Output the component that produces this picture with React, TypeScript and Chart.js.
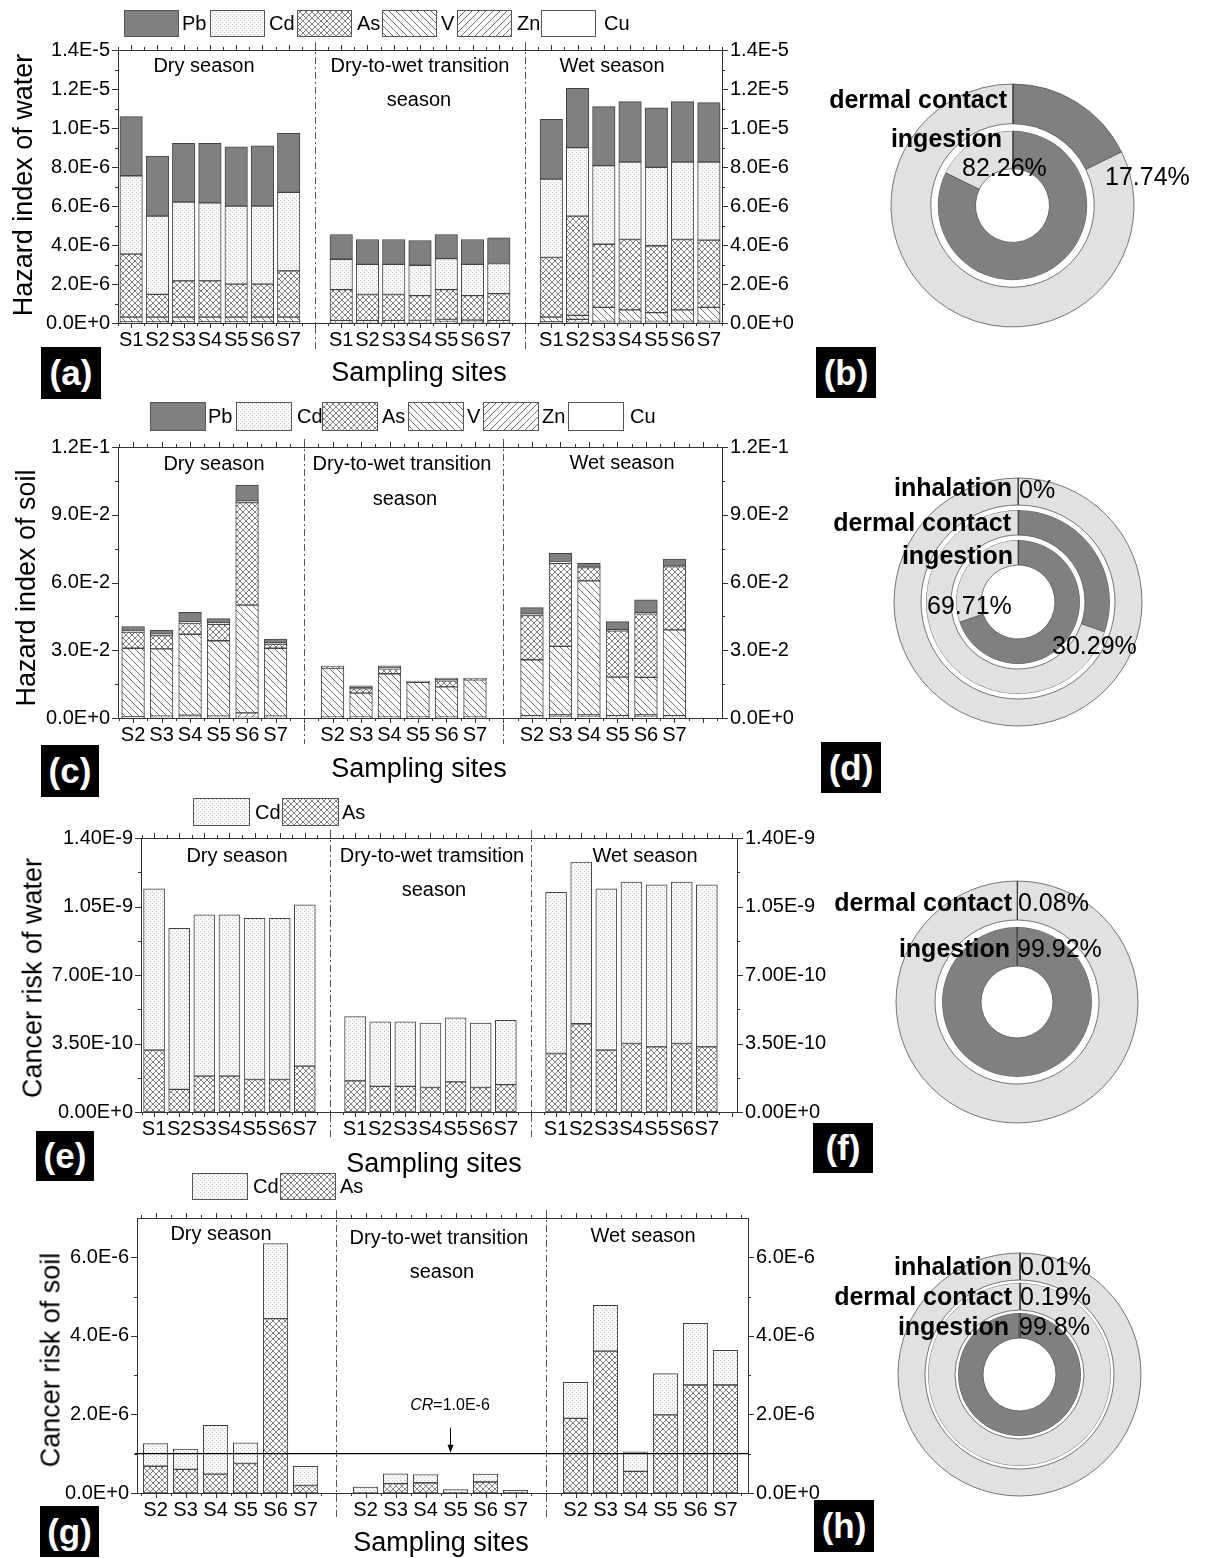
import React, { useEffect, useRef } from 'react';
import { Chart, registerables } from 'chart.js';

Chart.register(...registerables);

const FONT = "'Liberation Sans', Arial, Helvetica, sans-serif";
const CANVAS_W = 860;

// ---------- sites, pollutants, seasons ----------
const WATER_SITES = ['S1', 'S2', 'S3', 'S4', 'S5', 'S6', 'S7'];
const SOIL_SITES = ['S2', 'S3', 'S4', 'S5', 'S6', 'S7'];
const METALS = ['Pb', 'Cd', 'As', 'V', 'Zn', 'Cu'];
const CARCINOGENS = ['Cd', 'As'];
const SEASON_LINE1 = ['Dry season', 'Dry-to-wet transition', 'Wet season'];

// ---------- hazard index of water (×1E-6); dry | transition | wet, S1–S7 ----------
const hiWaterCu = [0.02, 0.02, 0.02, 0.02, 0.02, 0.02, 0.02, 0.02, 0.02, 0.02, 0.02, 0.02, 0.02, 0.02, 0.03, 0.03, 0.03, 0.03, 0.03, 0.03, 0.03];
const hiWaterZn = [0.03, 0.03, 0.03, 0.03, 0.03, 0.03, 0.03, 0.02, 0.02, 0.02, 0.02, 0.02, 0.02, 0.02, 0.04, 0.16, 0.05, 0.05, 0.05, 0.05, 0.05];
const hiWaterV = [0.25, 0.25, 0.25, 0.25, 0.25, 0.25, 0.25, 0.08, 0.08, 0.08, 0.09, 0.14, 0.11, 0.08, 0.23, 0.2, 0.72, 0.59, 0.45, 0.59, 0.72];
const hiWaterAs = [3.23, 1.17, 1.86, 1.86, 1.69, 1.69, 2.37, 1.59, 1.34, 1.34, 1.27, 1.53, 1.25, 1.39, 3.06, 5.09, 3.24, 3.61, 3.43, 3.61, 3.45];
const hiWaterCd = [4.02, 4.01, 4.04, 4.0, 4.0, 4.0, 4.03, 1.56, 1.55, 1.55, 1.56, 1.59, 1.61, 1.54, 4.02, 3.51, 4.03, 3.97, 4.02, 3.97, 4.0];
const hiWaterPb = [3.03, 3.08, 3.01, 3.05, 3.05, 3.09, 3.03, 1.27, 1.27, 1.27, 1.27, 1.24, 1.27, 1.32, 3.07, 3.05, 3.03, 3.1, 3.06, 3.1, 3.05];

// ---------- hazard index of soil (×1E-2); dry | transition | wet, S2–S7 ----------
const hiSoilCu = [0.03, 0.03, 0.04, 0.03, 0.03, 0.03, 0.02, 0.02, 0.02, 0.02, 0.02, 0.02, 0.04, 0.04, 0.04, 0.04, 0.04, 0.04];
const hiSoilZn = [0.03, 0.05, 0.08, 0.05, 0.2, 0.05, 0.02, 0.02, 0.02, 0.02, 0.02, 0.02, 0.06, 0.1, 0.1, 0.06, 0.1, 0.06];
const hiSoilV = [3.03, 2.98, 3.59, 3.34, 4.77, 3.01, 2.17, 1.06, 1.92, 1.54, 1.34, 1.65, 2.48, 3.03, 5.93, 1.71, 1.66, 3.8];
const hiSoilAs = [0.71, 0.59, 0.49, 0.73, 4.54, 0.18, 0.04, 0.2, 0.22, 0.02, 0.27, 0.02, 1.96, 3.68, 0.59, 2.05, 2.81, 2.8];
const hiSoilCd = [0.05, 0.06, 0.05, 0.06, 0.06, 0.06, 0.02, 0.04, 0.04, 0.01, 0.04, 0.02, 0.06, 0.08, 0.04, 0.05, 0.05, 0.05];
const hiSoilPb = [0.2, 0.18, 0.43, 0.19, 0.71, 0.16, 0.03, 0.09, 0.09, 0.03, 0.08, 0.04, 0.29, 0.36, 0.15, 0.36, 0.57, 0.29];

// ---------- cancer risk of water (×1E-10); dry | transition | wet, S1–S7 ----------
const crWaterAs = [3.16, 1.16, 1.83, 1.83, 1.66, 1.66, 2.34, 1.59, 1.31, 1.31, 1.25, 1.54, 1.25, 1.4, 2.99, 4.51, 3.16, 3.5, 3.33, 3.5, 3.33];
const crWaterCd = [8.24, 8.23, 8.24, 8.24, 8.24, 8.24, 8.24, 3.29, 3.3, 3.3, 3.29, 3.27, 3.29, 3.28, 8.24, 8.26, 8.24, 8.25, 8.28, 8.25, 8.28];

// ---------- cancer risk of soil (×1E-6); dry | transition | wet, S2–S7 ----------
const crSoilAs = [0.68, 0.6, 0.48, 0.75, 4.44, 0.19, 0.01, 0.24, 0.26, 0.01, 0.28, 0.01, 1.9, 3.61, 0.55, 1.99, 2.75, 2.75];
const crSoilCd = [0.58, 0.52, 1.24, 0.53, 1.91, 0.49, 0.14, 0.25, 0.21, 0.075, 0.2, 0.06, 0.92, 1.17, 0.5, 1.05, 1.57, 0.88];
const CR_THRESHOLD = 1.0e-6;

// ---------- exposure pathway shares (%), outer ring first ----------
const pathwaysWaterHI = ['dermal contact', 'ingestion'];
const sharesWaterHI = [17.74, 82.26];
const pathwaysSoilHI = ['inhalation', 'dermal contact', 'ingestion'];
const sharesSoilHI = [0, 30.29, 69.71];
const pathwaysWaterCR = ['dermal contact', 'ingestion'];
const sharesWaterCR = [0.08, 99.92];
const pathwaysSoilCR = ['inhalation', 'dermal contact', 'ingestion'];
const sharesSoilCR = [0.01, 0.19, 99.8];

// ---------- panel layout ----------
type BarPanel = {
  top: number;
  height: number;
  frame: { l: number; t: number; r: number; b: number };
  xMin: number;
  xMax: number;
  sites: string[];
  unit: number;
  stack: [string, number[]][];
  yMax: number;
  yStep: number;
  digits: number;
  barThickness: number;
  legendNames: string[];
  legendBoxX: number[];
  legendTextX: number[];
  legendTop: number;
  legendH: number;
  legendW: number;
  seasonPos: [number, number][];
  season2Pos: [number, number];
  season2Text: string;
  transitionText: string;
  yTitle: string;
  yTitlePos: [number, number];
  xTitlePos: [number, number];
  tag: string;
  tagBox: [number, number, number, number];
  cr?: { value: number; arrowAt: number; labelPos: [number, number] };
};

const BAR_PANELS: BarPanel[] = [
  {
    top: 0, height: 360, frame: { l: 118, t: 50, r: 722, b: 323 }, xMin: -0.5, xMax: 22.5,
    sites: WATER_SITES, unit: 1e-6,
    stack: [['Cu', hiWaterCu], ['Zn', hiWaterZn], ['V', hiWaterV], ['As', hiWaterAs], ['Cd', hiWaterCd], ['Pb', hiWaterPb]],
    yMax: 1.4e-5, yStep: 2e-6, digits: 1, barThickness: 22.5,
    legendNames: METALS, legendBoxX: [124, 210, 297, 382, 457, 541], legendTextX: [182, 269, 357, 441, 517, 604],
    legendTop: 10, legendH: 26, legendW: 54,
    seasonPos: [[204, 65], [420, 65], [612, 65]], season2Pos: [419, 99], season2Text: 'season',
    transitionText: 'Dry-to-wet transition',
    yTitle: 'Hazard index of water', yTitlePos: [23, 185], xTitlePos: [419, 372],
    tag: '(a)', tagBox: [41, 347, 60, 52],
  },
  {
    top: 395, height: 365, frame: { l: 118, t: 447, r: 722, b: 718 }, xMin: -0.53, xMax: 20.67,
    sites: SOIL_SITES, unit: 1e-2,
    stack: [['Cu', hiSoilCu], ['Zn', hiSoilZn], ['V', hiSoilV], ['As', hiSoilAs], ['Cd', hiSoilCd], ['Pb', hiSoilPb]],
    yMax: 0.12, yStep: 0.03, digits: 1, barThickness: 22.7,
    legendNames: METALS, legendBoxX: [150, 236, 322, 408, 483, 568], legendTextX: [208, 297, 382, 467, 542, 630],
    legendTop: 402, legendH: 28, legendW: 55,
    seasonPos: [[214, 463], [402, 463], [622, 462]], season2Pos: [405, 498], season2Text: 'season',
    transitionText: 'Dry-to-wet transition',
    yTitle: 'Hazard index of soil', yTitlePos: [26, 588], xTitlePos: [419, 768],
    tag: '(c)', tagBox: [41, 745, 58, 52],
  },
  {
    top: 795, height: 345, frame: { l: 141, t: 838, r: 737, b: 1112 }, xMin: -0.52, xMax: 23.2,
    sites: WATER_SITES, unit: 1e-10,
    stack: [['As', crWaterAs], ['Cd', crWaterCd]],
    yMax: 1.4e-9, yStep: 3.5e-10, digits: 2, barThickness: 21,
    legendNames: CARCINOGENS, legendBoxX: [193, 282], legendTextX: [255, 342],
    legendTop: 798, legendH: 27, legendW: 56,
    seasonPos: [[237, 855], [432, 855], [645, 855]], season2Pos: [434, 889], season2Text: 'season',
    transitionText: 'Dry-to-wet tramsition',
    yTitle: 'Cancer risk of water', yTitlePos: [33, 978], xTitlePos: [434, 1163],
    tag: '(e)', tagBox: [36, 1131, 58, 50],
  },
  {
    top: 1168, height: 360, frame: { l: 137, t: 1218, r: 748, b: 1493 }, xMin: -0.62, xMax: 19.75,
    sites: SOIL_SITES, unit: 1e-6,
    stack: [['As', crSoilAs], ['Cd', crSoilCd]],
    yMax: 7e-6, yStep: 2e-6, digits: 1, barThickness: 24.5,
    legendNames: CARCINOGENS, legendBoxX: [192, 280], legendTextX: [253, 340],
    legendTop: 1173, legendH: 26, legendW: 55,
    seasonPos: [[221, 1233], [439, 1237], [643, 1235]], season2Pos: [442, 1271], season2Text: 'season',
    transitionText: 'Dry-to-wet transition',
    yTitle: 'Cancer risk of soil', yTitlePos: [51, 1360], xTitlePos: [441, 1542],
    tag: '(g)', tagBox: [40, 1506, 59, 51],
    cr: { value: CR_THRESHOLD, arrowAt: 9.8, labelPos: [450, 1405] },
  },
];

type DonutPanel = {
  cx: number; cy: number; R: number; hole: number;
  ringW: number[]; gap: number;
  pathways: string[]; shares: number[];
  nameAt: [number, number][]; pctAt: [number, number][];
  tag: string; tagBox: [number, number, number, number];
};

const DONUTS: DonutPanel[] = [
  {
    cx: 1012, cy: 205, R: 121.5, hole: 37, ringW: [40, 38], gap: 7,
    pathways: pathwaysWaterHI, shares: sharesWaterHI,
    nameAt: [[1007, 99], [1002, 138]], pctAt: [[1105, 176], [962, 167]],
    tag: '(b)', tagBox: [816, 347, 60, 51],
  },
  {
    cx: 1018, cy: 602, R: 124, hole: 37, ringW: [27, 25, 25], gap: 5,
    pathways: pathwaysSoilHI, shares: sharesSoilHI,
    nameAt: [[1012, 487], [1011, 522], [1013, 555]], pctAt: [[1019, 489], [1052, 645], [927, 605]],
    tag: '(d)', tagBox: [821, 742, 60, 51],
  },
  {
    cx: 1017, cy: 1002, R: 121, hole: 36, ringW: [39, 39], gap: 7,
    pathways: pathwaysWaterCR, shares: sharesWaterCR,
    nameAt: [[1012, 902], [1010, 948]], pctAt: [[1018, 902], [1017, 948]],
    tag: '(f)', tagBox: [813, 1123, 60, 50],
  },
  {
    cx: 1019, cy: 1374, R: 121.5, hole: 36.5, ringW: [27, 27, 25], gap: 3,
    pathways: pathwaysSoilCR, shares: sharesSoilCR,
    nameAt: [[1012, 1266], [1012, 1296], [1009, 1326]], pctAt: [[1020, 1266], [1020, 1296], [1019, 1326]],
    tag: '(h)', tagBox: [814, 1500, 60, 52],
  },
];

const DARK = '#808080';
const LIGHT = '#e1e1e1';
const EDGE = '#444444';

// ---------- fill patterns for the pollutant stacks ----------
function makeFills(ctx: CanvasRenderingContext2D): Record<string, string | CanvasPattern> {
  const tile = (size: number, bg: string, paint: (g: CanvasRenderingContext2D, s: number) => void) => {
    const c = document.createElement('canvas');
    c.width = size;
    c.height = size;
    const g = c.getContext('2d')!;
    g.fillStyle = bg;
    g.fillRect(0, 0, size, size);
    g.strokeStyle = '#5c5c5c';
    g.lineWidth = 0.9;
    paint(g, size);
    return ctx.createPattern(c, 'repeat') as CanvasPattern;
  };
  const back = (g: CanvasRenderingContext2D, s: number) => {
    g.beginPath();
    for (const k of [-s, 0, s]) { g.moveTo(k, 0); g.lineTo(k + s, s); }
    g.stroke();
  };
  const fwd = (g: CanvasRenderingContext2D, s: number) => {
    g.beginPath();
    for (const k of [-s, 0, s]) { g.moveTo(k, s); g.lineTo(k + s, 0); }
    g.stroke();
  };
  return {
    Pb: DARK,
    Cd: tile(4, '#f8f8f8', (g) => { g.fillStyle = '#c2c2c2'; g.fillRect(0, 0, 1, 1); g.fillRect(2, 2, 1, 1); }),
    As: tile(6, '#ffffff', (g, s) => { g.strokeStyle = '#6a6a6a'; g.lineWidth = 0.85; back(g, s); fwd(g, s); }),
    V: tile(7, '#ffffff', back),
    Zn: tile(7, '#ffffff', fwd),
    Cu: '#ffffff',
  };
}

function buildBarChart(canvas: HTMLCanvasElement, p: BarPanel): Chart {
  const ctx = canvas.getContext('2d')!;
  const fills = makeFills(ctx);
  const n = p.sites.length;
  const slot = (j: number) => Math.floor(j / n) * (n + 1) + (j % n);
  const count = n * 3;
  const tickSlots = Array.from({ length: count }, (_, j) => slot(j));
  const dividers = [n, 2 * n + 1];
  const majorCount = Math.floor(p.yMax / p.yStep + 1e-9) + 1;
  const majors = Array.from({ length: majorCount }, (_, i) => i * p.yStep);
  const fmt = (v: number) => v.toExponential(p.digits).toUpperCase();
  const { l, t, r, b } = p.frame;

  const datasets = p.stack.map(([name, values]) => ({
    label: name,
    data: values.map((v, j) => ({ x: slot(j), y: v * p.unit })),
    backgroundColor: fills[name],
    borderColor: EDGE,
    borderWidth: 1,
    borderSkipped: false as const,
    barThickness: p.barThickness,
    xAxisID: 'x',
    yAxisID: 'y',
  }));

  const yAxis = (pos: 'left' | 'right') => ({
    type: 'linear' as const,
    position: pos,
    min: 0,
    max: p.yMax,
    bounds: 'data' as const,
    stacked: pos === 'left',
    grid: { display: false, drawTicks: false },
    border: { display: false },
    afterBuildTicks: (s: any) => { s.ticks = majors.map((v) => ({ value: v })); },
    afterFit: (s: any) => { s.width = pos === 'left' ? l : CANVAS_W - r; },
    ticks: { callback: (v: any) => fmt(Number(v)), font: { size: 20, family: FONT }, color: '#000', padding: 8, autoSkip: false },
  });

  const decor = {
    id: 'panelDecor',
    afterDraw(chart: Chart) {
      const c = chart.ctx;
      const a = chart.chartArea;
      const xs = chart.scales.x;
      const ys = chart.scales.y;
      const seg = (x1: number, y1: number, x2: number, y2: number) => {
        c.beginPath(); c.moveTo(x1, y1); c.lineTo(x2, y2); c.stroke();
      };
      c.save();
      c.strokeStyle = '#333';
      c.lineWidth = 1;
      c.setLineDash([]);
      c.strokeRect(Math.round(a.left) + 0.5, Math.round(a.top) + 0.5, Math.round(a.right - a.left), Math.round(a.bottom - a.top));
      // y ticks, major and minor, both sides
      majors.forEach((v) => {
        const py = Math.round(ys.getPixelForValue(v)) + 0.5;
        seg(a.left - 6, py, a.left, py);
        seg(a.right, py, a.right + 6, py);
        const m = v + p.yStep / 2;
        if (m < p.yMax * (1 - 1e-9)) {
          const pm = Math.round(ys.getPixelForValue(m)) + 0.5;
          seg(a.left - 3, pm, a.left, pm);
          seg(a.right, pm, a.right + 3, pm);
        }
      });
      // x ticks on bottom and top
      for (let s = Math.ceil(p.xMin * 2) / 2; s <= p.xMax; s += 0.5) {
        const px = Math.round(xs.getPixelForValue(s)) + 0.5;
        const len = Number.isInteger(s) ? 5 : 3;
        seg(px, a.bottom, px, a.bottom + len);
        seg(px, a.top, px, a.top - len);
      }
      // season dividers
      c.strokeStyle = '#555';
      c.setLineDash([7, 3, 2, 3]);
      dividers.forEach((d) => {
        const px = Math.round(xs.getPixelForValue(d)) + 0.5;
        seg(px, a.top - 8, px, a.bottom + 26);
      });
      c.setLineDash([]);
      // risk threshold
      if (p.cr) {
        const py = ys.getPixelForValue(p.cr.value);
        c.strokeStyle = '#000';
        c.lineWidth = 1.3;
        seg(a.left - 2, py, a.right, py);
        const ax = Math.round(xs.getPixelForValue(p.cr.arrowAt)) + 0.5;
        c.lineWidth = 1;
        seg(ax, py - 26, ax, py - 3);
        c.fillStyle = '#000';
        c.beginPath();
        c.moveTo(ax, py - 1);
        c.lineTo(ax - 3, py - 9);
        c.lineTo(ax + 3, py - 9);
        c.closePath();
        c.fill();
      }
      // legend swatches
      c.lineWidth = 1;
      c.strokeStyle = '#555';
      p.legendNames.forEach((name, i) => {
        const x = p.legendBoxX[i];
        const y = p.legendTop - p.top;
        c.fillStyle = fills[name] as any;
        c.fillRect(x, y, p.legendW, p.legendH);
        c.strokeRect(x + 0.5, y + 0.5, p.legendW, p.legendH);
      });
      c.restore();
    },
  };

  return new Chart(canvas, {
    type: 'bar',
    data: { datasets: datasets as any },
    options: {
      responsive: false,
      animation: false,
      devicePixelRatio: 1,
      events: [],
      layout: { padding: { top: t - p.top, left: 0, right: 0, bottom: 0 } },
      plugins: { legend: { display: false }, tooltip: { enabled: false } },
      scales: {
        x: {
          type: 'linear',
          min: p.xMin,
          max: p.xMax,
          bounds: 'data',
          offset: false,
          stacked: true,
          grid: { display: false, drawTicks: false },
          border: { display: false },
          afterBuildTicks: (s: any) => { s.ticks = tickSlots.map((v) => ({ value: v })); },
          afterFit: (s: any) => { s.height = p.top + p.height - b; },
          ticks: {
            callback: (_v: any, i: number) => p.sites[i % n],
            autoSkip: false,
            maxRotation: 0,
            minRotation: 0,
            padding: 5,
            color: '#000',
            font: { size: 20, family: FONT },
          },
        } as any,
        y: yAxis('left') as any,
        y2: yAxis('right') as any,
      },
    },
    plugins: [decor],
  });
}

function buildDonut(canvas: HTMLCanvasElement, d: DonutPanel): Chart {
  const datasets: any[] = [];
  d.shares.forEach((share, i) => {
    if (i > 0) {
      datasets.push({ data: [1], backgroundColor: ['#ffffff'], borderWidth: 0, weight: d.gap, spacer: true });
    }
    datasets.push({
      label: d.pathways[i],
      data: [share, 100 - share],
      backgroundColor: [DARK, LIGHT],
      borderColor: '#555',
      borderWidth: 0.8,
      weight: d.ringW[i],
    });
  });
  const seams = {
    id: 'ringSeams',
    afterDraw(chart: Chart) {
      const c = chart.ctx;
      c.save();
      c.strokeStyle = '#444';
      c.lineWidth = 1;
      chart.data.datasets.forEach((ds: any, i) => {
        if (ds.spacer) return;
        const ctrl: any = chart.getDatasetMeta(i).controller;
        const arc: any = chart.getDatasetMeta(i).data[0];
        if (!arc) return;
        const x = Math.round(arc.x) + 0.5;
        c.beginPath();
        c.moveTo(x, arc.y - ctrl.innerRadius);
        c.lineTo(x, arc.y - ctrl.outerRadius);
        c.stroke();
      });
      c.restore();
    },
  };
  return new Chart(canvas, {
    type: 'doughnut',
    data: { labels: ['pathway', 'others'], datasets },
    options: {
      responsive: false,
      animation: false,
      devicePixelRatio: 1,
      events: [],
      radius: d.R,
      cutout: `${(d.hole / d.R) * 100}%`,
      rotation: 0,
      layout: { padding: 0 },
      elements: { arc: { hoverOffset: 0, offset: 0 } as any },
      plugins: { legend: { display: false }, tooltip: { enabled: false } },
    } as any,
    plugins: [seams],
  });
}

// ---------- text helpers ----------
type TxtProps = {
  x: number; y: number; size: number; align?: 'l' | 'c' | 'r';
  bold?: boolean; rot?: boolean; children: React.ReactNode;
};
function Txt({ x, y, size, align = 'c', bold, rot, children }: TxtProps) {
  const tx = align === 'c' ? '-50%' : align === 'r' ? '-100%' : '0';
  return (
    <div
      style={{
        position: 'absolute', left: x, top: y, fontSize: size, lineHeight: 1,
        fontWeight: bold ? 'bold' : 'normal', whiteSpace: 'nowrap', color: '#000',
        transform: `translate(${tx},-50%)${rot ? ' rotate(-90deg)' : ''}`, zIndex: 2,
      }}
    >
      {children}
    </div>
  );
}

function Tag({ box, text }: { box: [number, number, number, number]; text: string }) {
  const [x, y, w, h] = box;
  return (
    <div
      style={{
        position: 'absolute', left: x, top: y, width: w, height: h, background: '#000', color: '#fff',
        fontWeight: 'bold', fontSize: 35, display: 'flex', alignItems: 'center', justifyContent: 'center', zIndex: 2,
      }}
    >
      {text}
    </div>
  );
}

export default function App() {
  const barRefs = useRef<(HTMLCanvasElement | null)[]>([]);
  const donutRefs = useRef<(HTMLCanvasElement | null)[]>([]);

  useEffect(() => {
    const charts: Chart[] = [];
    BAR_PANELS.forEach((p, i) => {
      const cv = barRefs.current[i];
      if (cv) charts.push(buildBarChart(cv, p));
    });
    DONUTS.forEach((d, i) => {
      const cv = donutRefs.current[i];
      if (cv) charts.push(buildDonut(cv, d));
    });
    return () => charts.forEach((c) => c.destroy());
  }, []);

  return (
    <div style={{ position: 'absolute', left: 0, top: 0, width: 1208, height: 1558, background: '#fff', fontFamily: FONT, overflow: 'hidden' }}>
      {BAR_PANELS.map((p, i) => (
        <React.Fragment key={p.tag}>
          <canvas
            ref={(el) => { barRefs.current[i] = el; }}
            width={CANVAS_W}
            height={p.height}
            style={{ position: 'absolute', left: 0, top: p.top, width: CANVAS_W, height: p.height }}
          />
          {p.legendNames.map((name, k) => (
            <Txt key={name} x={p.legendTextX[k]} y={p.legendTop + p.legendH / 2} size={20} align="l">{name}</Txt>
          ))}
          <Txt x={p.seasonPos[0][0]} y={p.seasonPos[0][1]} size={20}>{SEASON_LINE1[0]}</Txt>
          <Txt x={p.seasonPos[1][0]} y={p.seasonPos[1][1]} size={20}>{p.transitionText}</Txt>
          <Txt x={p.season2Pos[0]} y={p.season2Pos[1]} size={20}>{p.season2Text}</Txt>
          <Txt x={p.seasonPos[2][0]} y={p.seasonPos[2][1]} size={20}>{SEASON_LINE1[2]}</Txt>
          <Txt x={p.yTitlePos[0]} y={p.yTitlePos[1]} size={27} rot>{p.yTitle}</Txt>
          <Txt x={p.xTitlePos[0]} y={p.xTitlePos[1]} size={27}>Sampling sites</Txt>
          {p.cr && (
            <Txt x={p.cr.labelPos[0]} y={p.cr.labelPos[1]} size={16}>
              <i>CR</i>={p.cr.value.toExponential(1).toUpperCase()}
            </Txt>
          )}
          <Tag box={p.tagBox} text={p.tag} />
        </React.Fragment>
      ))}
      {DONUTS.map((d, i) => {
        const size = Math.ceil(2 * d.R) + 10;
        return (
          <React.Fragment key={d.tag}>
            <canvas
              ref={(el) => { donutRefs.current[i] = el; }}
              width={size}
              height={size}
              style={{ position: 'absolute', left: d.cx - size / 2, top: d.cy - size / 2, width: size, height: size }}
            />
            {d.pathways.map((name, k) => (
              <React.Fragment key={name}>
                <Txt x={d.nameAt[k][0]} y={d.nameAt[k][1]} size={25} bold align="r">{name}</Txt>
                <Txt x={d.pctAt[k][0]} y={d.pctAt[k][1]} size={25} align="l">{`${d.shares[k]}%`}</Txt>
              </React.Fragment>
            ))}
            <Tag box={d.tagBox} text={d.tag} />
          </React.Fragment>
        );
      })}
    </div>
  );
}
